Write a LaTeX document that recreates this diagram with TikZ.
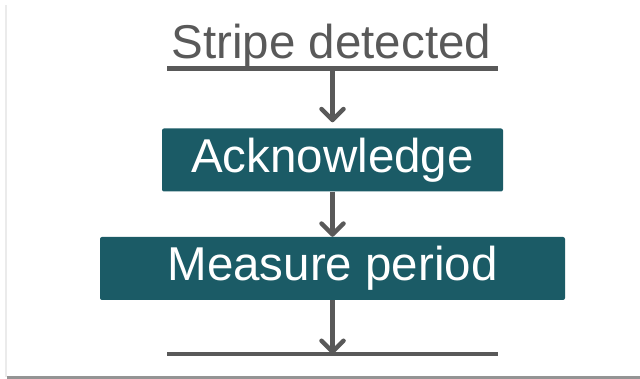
\documentclass[tikz,border=0pt]{standalone}
\usepackage{fontspec}
\setmainfont{Liberation Sans}
\usetikzlibrary{positioning,arrows.meta}

\definecolor{stepteal}{HTML}{1B5B66}
\definecolor{flowgray}{HTML}{595959}

\begin{document}
\begin{tikzpicture}[
  x=1pt, y=-1pt,
  stepbox/.style={rectangle, fill=stepteal, rounded corners=2pt, inner sep=0pt,
    minimum height=63pt, text=white, font=\fontsize{47.5}{50}\selectfont},
  flowline/.style={draw=flowgray, line width=4.5pt},
  flowarrow/.style={flowline, -{Straight Barb[length=11pt, width=22pt, line width=4.5pt, round]}},
]
  % page frame with its faint shadow
  \useasboundingbox (0,0) rectangle (640,379);
  \fill[white] (0,0) rectangle (640,379);
  \fill[black!8] (5,5) rectangle (7,377);
  \fill[black!42] (7,376) rectangle (640,379);

  % caption and its rule
  \node[anchor=base, text=flowgray, inner sep=0pt, font=\fontsize{47.5}{50}\selectfont]
    (stripe) at (331.5,59) {Stripe detected};
  \coordinate (ruleL) at (167,68.5);
  \coordinate (ruleR) at (498,68.5);
  \draw[flowline] (ruleL) -- (ruleR);
  \coordinate (ruleM) at (332.5,68.5);

  % steps
  \node[stepbox, minimum width=341pt] (ack) at (332.5,160) {Acknowledge};
  \node[stepbox, minimum width=465pt] (measure) at (332.5,268.5) {Measure period};

  % closing rule
  \coordinate (endL) at (167,354);
  \coordinate (endR) at (498,354);
  \coordinate (endM) at (332.5,354);
  \draw[flowline] (endL) -- (endR);

  % arrows
  \draw[flowarrow, shorten >=6pt] (ruleM) -- (ack.north);
  \draw[flowarrow] (ack.south) -- (measure.north);
  \draw[flowarrow] (measure.south) -- (endM);
\end{tikzpicture}
\end{document}
